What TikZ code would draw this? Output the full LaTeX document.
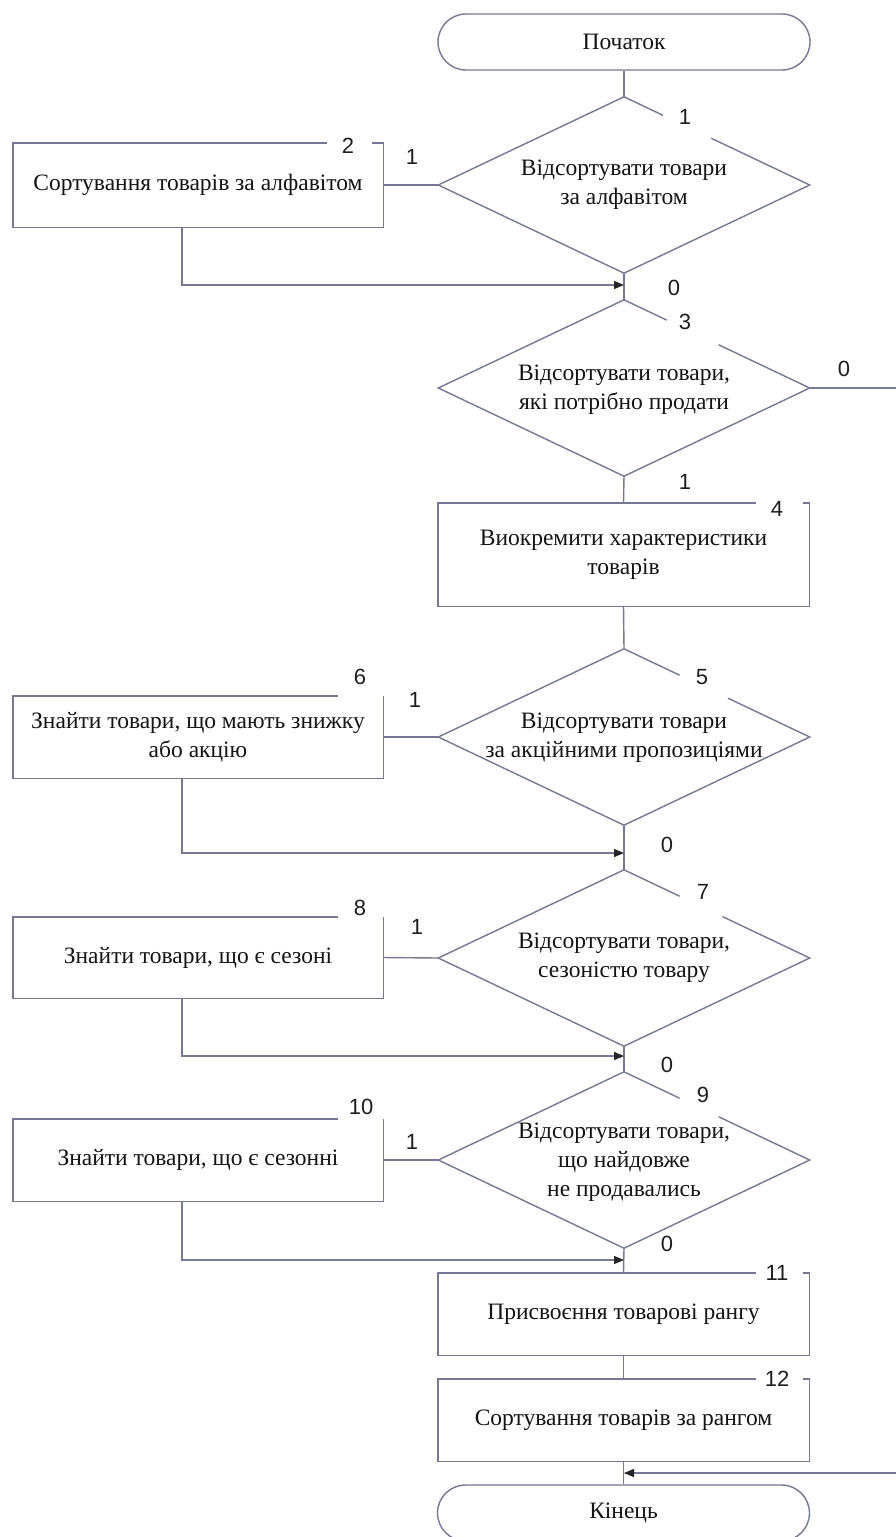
\documentclass[tikz,border=0pt]{standalone}
\usepackage{fontspec}
\setmainfont{Liberation Serif}
\newfontfamily\numfont{Liberation Sans}
\usetikzlibrary{shapes.geometric,calc,arrows.meta}
\definecolor{ln}{RGB}{118,120,148}
\definecolor{tx}{RGB}{20,20,20}
\definecolor{nm}{RGB}{30,30,30}
\begin{document}
\begin{tikzpicture}[x=1pt,y=-1pt,
  line/.style={draw=ln,line width=1.4pt},
  arr/.style={line,-{Triangle[length=10pt,width=8pt,color=black!85]}},
  txt/.style={text=tx,font=\fontsize{23.5}{29}\selectfont,align=center,inner sep=0pt},
  term/.style={rectangle,rounded corners=28pt,draw=ln,line width=1.4pt,minimum width=372pt,minimum height=56pt,inner sep=0pt,text=tx,font=\fontsize{23.5}{29}\selectfont},
  dia/.style={diamond,draw=none,minimum width=371pt,minimum height=176pt,inner sep=0pt},
  boxn/.style={rectangle,draw=none,inner sep=0pt,align=center,text=tx,font=\fontsize{23.5}{29}\selectfont},
  num/.style={text=nm,font=\numfont\fontsize{22}{24}\selectfont,inner sep=0pt}
]
\useasboundingbox (0,0) rectangle (896,1537);
\clip (0,0) rectangle (896,1537);
\fill[white] (0,0) rectangle (896,1537);

% terminals
\node[term] (start) at (624,42) {Початок};
\node[term] (end) at (623.5,1513) {Кінець};

% decisions
\node[dia] (d1) at (624,185) {};
\node[txt] (d1t) at (624,185) {Відсортувати товари\\за алфавітом};
\node[dia] (d3) at (624,388) {};
\node[txt] (d3t) at (624,390) {Відсортувати товари,\\які потрібно продати};
\node[dia] (d5) at (624,737) {};
\node[txt] (d5t) at (624,738) {Відсортувати товари\\за акційними пропозиціями};
\node[dia] (d7) at (624,958) {};
\node[txt] (d7t) at (624,958) {Відсортувати товари,\\сезоністю товару};
\node[dia] (d9) at (624,1160) {};
\node[txt] (d9t) at (624,1162) {Відсортувати товари,\\що найдовже\\не продавались};

\foreach \d/\a/\b in {d1/0.21/0.47, d3/0.23/0.51, d5/0.30/0.56, d7/0.30/0.53, d9/0.30/0.51}{
  \draw[line] ($(\d.north)!\a!(\d.east)$) -- (\d.north) -- (\d.west) -- (\d.south) -- (\d.east) -- ($(\d.north)!\b!(\d.east)$);
}

% process boxes
\node[boxn,minimum width=370pt,minimum height=84pt] (b2) at (198,185) {Сортування товарів за алфавітом};
\node[boxn,minimum width=371pt,minimum height=103pt] (b4) at (623.5,554.5) {Виокремити характеристики\\товарів};
\node[boxn,minimum width=370pt,minimum height=82pt] (b6) at (198,737) {Знайти товари, що мають знижку\\або акцію};
\node[boxn,minimum width=370pt,minimum height=81pt] (b8) at (198,957.5) {Знайти товари, що є сезоні};
\node[boxn,minimum width=370pt,minimum height=82pt] (b10) at (198,1160) {Знайти товари, що є сезонні};
\node[boxn,minimum width=371pt,minimum height=82pt] (b11) at (623.5,1314) {Присвоєння товарові рангу};
\node[boxn,minimum width=371pt,minimum height=82pt] (b12) at (623.5,1420) {Сортування товарів за рангом};

% box outlines with gaps for numbers
\draw[line] ([xshift=-56pt]b2.north east) -- (b2.north west) -- (b2.south west) -- (b2.south east) -- (b2.north east) -- ([xshift=-11pt]b2.north east);
\foreach \b in {b4,b11,b12}{
  \draw[line] ([xshift=-53pt]\b.north east) -- (\b.north west) -- (\b.south west) -- (\b.south east) -- (\b.north east) -- ([xshift=-6pt]\b.north east);
}
\foreach \b in {b6,b8,b10}{
  \draw[line] (\b.north east) -- (\b.south east) -- (\b.south west) -- (\b.north west) -- ([xshift=-45pt]\b.north east);
}

% junction coordinates
\coordinate (j1) at (624,285);
\coordinate (j2) at (624,853);
\coordinate (j3) at (624,1056);
\coordinate (j4) at (624,1260);
\coordinate (j5) at (624,1473);
\coordinate (r1) at (896,388);
\coordinate (r2) at (896,1473);

% main flow
\draw[line] (start.south) -- (d1.north);
\draw[line] (d1.south) -- (d3.north);
\draw[line] (d3.south) -- (b4.north);
\draw[line] (b4.south) -- (d5.north);
\draw[line] (d5.south) -- (d7.north);
\draw[line] (d7.south) -- (d9.north);
\draw[line] (d9.south) -- (b11.north);
\draw[line] (b11.south) -- (b12.north);
\draw[line] (b12.south) -- (end.north);

% branches
\draw[line] (d1.west) -- (b2.east);
\draw[line] (d5.west) -- (b6.east);
\draw[line] (d7.west) -- (b8.east);
\draw[line] (d9.west) -- (b10.east);
\draw[arr] ([xshift=-16pt]b2.south) |- (j1);
\draw[arr] ([xshift=-16pt]b6.south) |- (j2);
\draw[arr] ([xshift=-16pt]b8.south) |- (j3);
\draw[arr] ([xshift=-16pt]b10.south) |- (j4);
\draw[line] (d3.east) -- (r1);
\draw[arr] (r2) -- (j5);

% block numbers
\node[num] (n1) at (685,117) {1};
\node[num] (n2) at (348,146) {2};
\node[num] (n3) at (685,322) {3};
\node[num] (n4) at (777,509) {4};
\node[num] (n5) at (702,677) {5};
\node[num] (n6) at (360,677) {6};
\node[num] (n7) at (703,892) {7};
\node[num] (n8) at (360,908) {8};
\node[num] (n9) at (703,1095) {9};
\node[num] (n10) at (361,1107) {10};
\node[num] (n11) at (777,1273) {11};
\node[num] (n12) at (777,1379) {12};

% branch labels
\node[num] (l1a) at (412,157) {1};
\node[num] (l0a) at (674,288) {0};
\node[num] (l0b) at (844,369) {0};
\node[num] (l1b) at (685,482) {1};
\node[num] (l1c) at (415,700) {1};
\node[num] (l0c) at (667,845) {0};
\node[num] (l1d) at (417,927) {1};
\node[num] (l0d) at (667,1065) {0};
\node[num] (l1e) at (412,1142) {1};
\node[num] (l0e) at (667,1244) {0};
\end{tikzpicture}
\end{document}
